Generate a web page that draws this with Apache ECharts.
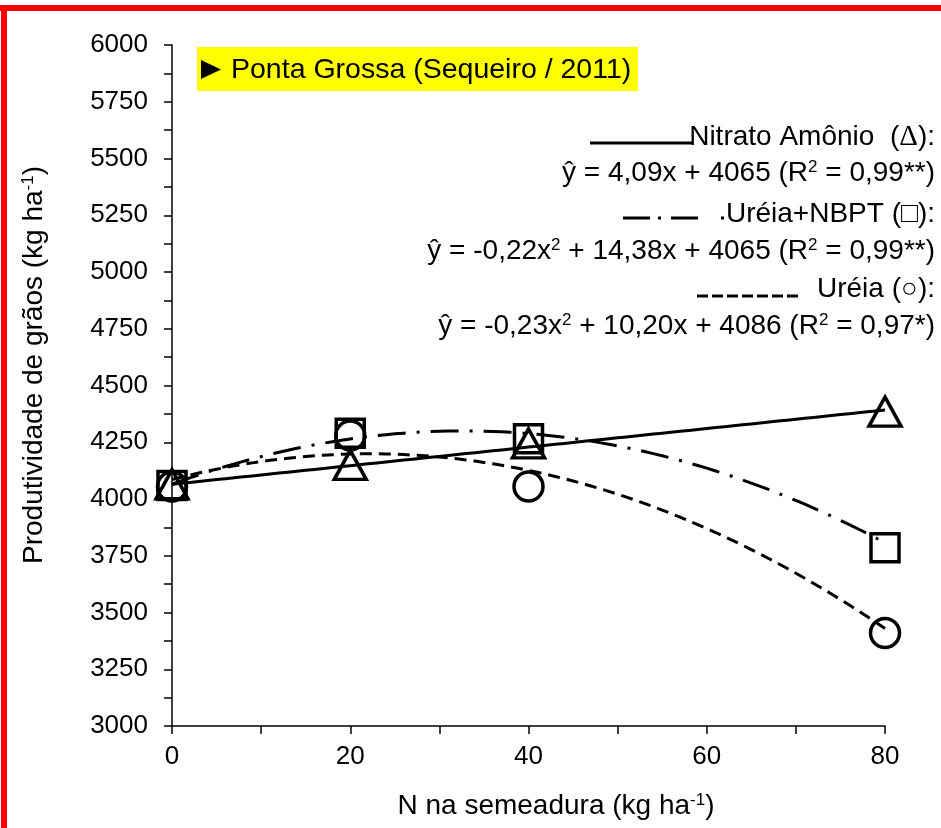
<!DOCTYPE html>
<html>
<head>
<meta charset="utf-8">
<script src="https://cdn.jsdelivr.net/npm/echarts@6/dist/echarts.min.js"></script>
<style>
  html, body { margin: 0; padding: 0; background: #fff; }
  #chart { width: 941px; height: 828px; }
</style>
</head>
<body>
<div id="chart"></div>
<script>
// N rates at sowing (kg ha-1)
const nRates = [0, 20, 40, 80];

// Observed grain yield (kg ha-1) per nitrogen source
const nitratoAmonio = [4065, 4150, 4245, 4385];
const ureiaNBPT = [4060, 4290, 4265, 3785];
const ureia = [4055, 4280, 4055, 3410];

// Fitted regression coefficients [c0, c1, c2]: y = c0 + c1*x + c2*x^2
const fitNitrato = [4065, 4.09, 0];
const fitUreiaNBPT = [4065, 14.38, -0.22];
const fitUreia = [4086, 10.20, -0.23];

// Axis ticks
const xTicks = [0, 20, 40, 60, 80];
const yTicks = [3000, 3250, 3500, 3750, 4000, 4250, 4500, 4750, 5000, 5250, 5500, 5750, 6000];

const FONT = '"Liberation Sans", Arial, sans-serif';
const SERIF = '"Liberation Serif", "DejaVu Serif", serif';

function curve(c) {
  const pts = [];
  for (let x = xTicks[0]; x <= xTicks[xTicks.length - 1]; x += 1) {
    pts.push([x, c[0] + c[1] * x + c[2] * x * x]);
  }
  return pts;
}
function pairs(ys) {
  return nRates.map((x, i) => [x, ys[i]]);
}

const markerStyle = { color: 'rgba(0,0,0,0)', borderColor: '#000', borderWidth: 3.5, opacity: 1 };
const rich = {
  n: { fontSize: 28, fontFamily: FONT, fill: '#000' },
  s: { fontSize: 17, fontFamily: FONT, fill: '#000', padding: [0, 0, 12, 0] },
  g: { fontSize: 29, fontFamily: SERIF, fill: '#000' }
};

const chart = echarts.init(document.getElementById('chart'), null, { renderer: 'canvas' });
chart.setOption({
  backgroundColor: '#fff',
  animation: false,
  grid: { left: 172, right: 56, top: 45, bottom: 102, containLabel: false },
  xAxis: {
    type: 'value',
    min: xTicks[0],
    max: xTicks[xTicks.length - 1],
    interval: 20,
    axisLine: { show: true, lineStyle: { color: '#000', width: 1.5 } },
    axisTick: { show: true, length: 8, lineStyle: { color: '#000', width: 1.5 } },
    minorTick: { show: true, splitNumber: 2, length: 8, lineStyle: { color: '#000', width: 1.5 } },
    splitLine: { show: false },
    axisLabel: { color: '#000', fontSize: 26, fontFamily: FONT, margin: 18, formatter: v => String(v) }
  },
  yAxis: {
    type: 'value',
    min: yTicks[0],
    max: yTicks[yTicks.length - 1],
    interval: 250,
    axisLine: { show: true, lineStyle: { color: '#000', width: 1.5 } },
    axisTick: { show: true, length: 8, lineStyle: { color: '#000', width: 1.5 } },
    minorTick: { show: true, splitNumber: 2, length: 8, lineStyle: { color: '#000', width: 1.5 } },
    splitLine: { show: false },
    axisLabel: { color: '#000', fontSize: 26, fontFamily: FONT, margin: 24, formatter: v => String(v) }
  },
  series: [
    {
      name: 'Nitrato Amônio fit', type: 'line', data: curve(fitNitrato),
      showSymbol: false, silent: true, z: 2,
      lineStyle: { color: '#000', width: 3, type: 'solid' }
    },
    {
      name: 'Uréia+NBPT fit', type: 'line', data: curve(fitUreiaNBPT),
      showSymbol: false, silent: true, z: 2,
      lineStyle: { color: '#000', width: 3, type: [28, 11, 3, 11] }
    },
    {
      name: 'Uréia fit', type: 'line', data: curve(fitUreia),
      showSymbol: false, silent: true, z: 2,
      lineStyle: { color: '#000', width: 3, type: [12, 7] }
    },
    {
      name: 'Nitrato Amônio', type: 'scatter', data: pairs(nitratoAmonio),
      symbol: 'triangle', symbolSize: [32, 29], itemStyle: markerStyle, z: 3
    },
    {
      name: 'Uréia+NBPT', type: 'scatter', data: pairs(ureiaNBPT),
      symbol: 'rect', symbolSize: 28, itemStyle: markerStyle, z: 3
    },
    {
      name: 'Uréia', type: 'scatter', data: pairs(ureia),
      symbol: 'circle', symbolSize: 29, itemStyle: markerStyle, z: 3
    }
  ],
  graphic: [
    // frame edges
    { type: 'rect', shape: { x: 0, y: 5, width: 941, height: 6 }, style: { fill: '#ff0000' }, silent: true },
    { type: 'rect', shape: { x: 1, y: 5, width: 6, height: 823 }, style: { fill: '#ff0000' }, silent: true },
    // site label
    { type: 'rect', shape: { x: 197, y: 47, width: 441, height: 44 }, style: { fill: '#ffff00' }, silent: true },
    { type: 'polygon', shape: { points: [[201, 60], [201, 79], [221, 69.5]] }, style: { fill: '#000' }, silent: true },
    { type: 'text', x: 231, y: 70, style: { text: 'Ponta Grossa (Sequeiro / 2011)', fill: '#000', font: '28.5px ' + FONT, verticalAlign: 'middle', align: 'left' } },
    // y axis title
    {
      type: 'text', x: 34, y: 365, rotation: Math.PI / 2,
      style: { text: '{n|Produtividade de grãos (kg ha}{s|-1}{n|)}', align: 'center', verticalAlign: 'middle', rich: rich }
    },
    // x axis title
    {
      type: 'text', x: 556, y: 806,
      style: { text: '{n|N na semeadura (kg ha}{s|-1}{n|)}', align: 'center', verticalAlign: 'middle', rich: rich }
    },
    // equation key: line samples
    { type: 'line', shape: { x1: 590, y1: 143, x2: 692, y2: 143 }, style: { stroke: '#000', lineWidth: 3 } },
    { type: 'line', shape: { x1: 623, y1: 218, x2: 700, y2: 218 }, style: { stroke: '#000', lineWidth: 3, lineDash: [27, 8, 3, 10] } },
    { type: 'line', shape: { x1: 721, y1: 218, x2: 724, y2: 218 }, style: { stroke: '#000', lineWidth: 3 } },
    { type: 'line', shape: { x1: 697, y1: 296, x2: 800, y2: 296 }, style: { stroke: '#000', lineWidth: 3, lineDash: [11, 4] } },
    // equation key: texts
    { type: 'text', x: 935, y: 137, style: { text: '{n|Nitrato Amônio  (}{g|Δ}{n|):}', align: 'right', verticalAlign: 'middle', rich: rich } },
    { type: 'text', x: 935, y: 173, style: { text: '{n|ŷ = 4,09x + 4065 (R}{s|2}{n| = 0,99**)}', align: 'right', verticalAlign: 'middle', rich: rich } },
    { type: 'text', x: 935, y: 214, style: { text: '{n|Uréia+NBPT (□):}', align: 'right', verticalAlign: 'middle', rich: rich } },
    { type: 'text', x: 935, y: 251, style: { text: '{n|ŷ = -0,22x}{s|2}{n| + 14,38x + 4065 (R}{s|2}{n| = 0,99**)}', align: 'right', verticalAlign: 'middle', rich: rich } },
    { type: 'text', x: 935, y: 289, style: { text: '{n|Uréia (○):}', align: 'right', verticalAlign: 'middle', rich: rich } },
    { type: 'text', x: 935, y: 326, style: { text: '{n|ŷ = -0,23x}{s|2}{n| + 10,20x + 4086 (R}{s|2}{n| = 0,97*)}', align: 'right', verticalAlign: 'middle', rich: rich } }
  ]
});
</script>
</body>
</html>
